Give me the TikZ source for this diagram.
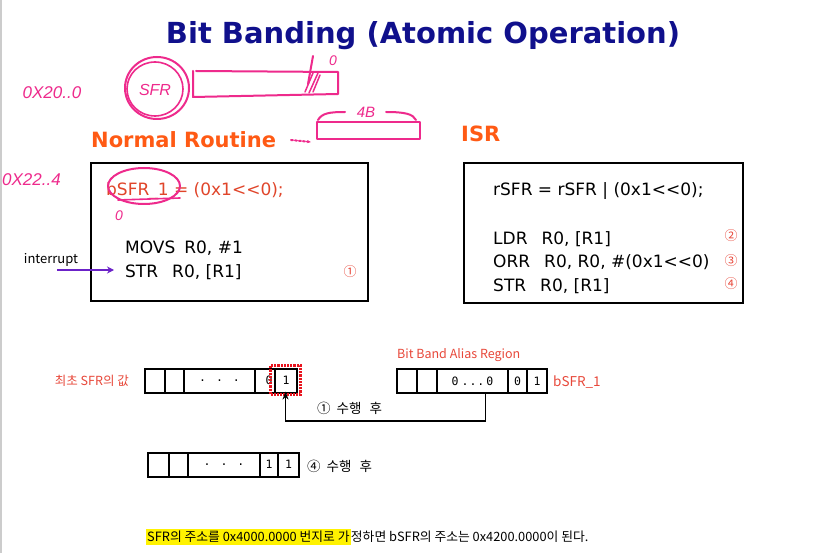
\documentclass[tikz,border=0pt]{standalone}
\usepackage{fontspec}
\setmainfont{Liberation Sans}
\newfontfamily\titlefont{DejaVu Sans}
\newfontfamily\codefont{DejaVu Sans}
\newfontfamily\kr{Noto Sans CJK KR}
\newfontfamily\cellfont{DejaVu Sans Mono}
\usetikzlibrary{arrows.meta,calc}
\definecolor{titleblue}{HTML}{10108C}
\definecolor{hdorange}{HTML}{FF5A14}
\definecolor{codered}{HTML}{E0452A}
\definecolor{pinkpen}{HTML}{EE2A8C}
\definecolor{arrowpurple}{HTML}{6B22C8}
\definecolor{lblred}{HTML}{E8483A}
\definecolor{dotred}{HTML}{E8141E}
\definecolor{hl}{HTML}{FFF200}
\begin{document}
\begin{tikzpicture}[x=1pt,y=-1pt,
  heading/.style={font=\titlefont\bfseries\fontsize{21}{25}\selectfont, text=hdorange, inner sep=0pt},
  codebox/.style={draw=black, line width=2.6pt, inner sep=0pt},
  codeline/.style={font=\codefont\fontsize{17}{20}\selectfont, anchor=base west, inner sep=0pt},
  stepnum/.style={font=\kr\fontsize{13}{15}\selectfont, text=lblred, inner sep=0pt},
  cell/.style={draw=black, line width=2pt, minimum height=24pt, inner sep=0pt, font=\cellfont\fontsize{11.5}{13}\selectfont},
  krlabel/.style={font=\kr\fontsize{12.5}{15}\selectfont, inner sep=0pt},
  pen/.style={draw=pinkpen, line width=2pt, line cap=round, line join=round},
  pentext/.style={text=pinkpen, font=\itshape\fontsize{17}{20}\selectfont, inner sep=0pt}
]
\useasboundingbox (0,0) rectangle (832,553);
\fill[white] (0,0) rectangle (832,553);
\draw[gray!40, line width=1.5pt] (1,0) -- (1,553);

% title
\node[font=\titlefont\bfseries\fontsize{29}{34}\selectfont, text=titleblue, inner sep=0pt] (title) at (423,36) {Bit Banding (Atomic Operation)};

% headings
\node[heading, anchor=west] (hnr) at (91,140) {Normal Routine};
\node[heading, anchor=west] (hisr) at (461,134) {ISR};

% code boxes
\node[codebox, minimum width=277pt, minimum height=138pt] (nr) at (229.5,232) {};
\node[codebox, minimum width=279pt, minimum height=140pt] (isr) at (603.5,233) {};

\node[codeline, text=codered] (c1) at (106,196) {bSFR\_1 = (0x1<<0);};
\node[codeline] (c2) at (125,254) {MOVS\hspace{9pt}R0, \#1};
\node[codeline] (c3) at (125,277) {STR\hspace{14pt}R0, [R1]};
\node[stepnum] (n1) at (350,272) {①};

\node[codeline] (r1) at (493,196) {rSFR = rSFR | (0x1<<0);};
\node[codeline] (r2) at (493,245) {LDR\hspace{14pt}R0, [R1]};
\node[codeline] (r3) at (493,268) {ORR\hspace{14pt}R0, R0, \#(0x1<<0)};
\node[codeline] (r4) at (493,291) {STR\hspace{14pt}R0, [R1]};
\node[stepnum] (n2) at (731,236) {②};
\node[stepnum] (n3) at (731,261) {③};
\node[stepnum] (n4) at (731,284) {④};

% interrupt
\node[font=\kr\fontsize{13}{15}\selectfont, inner sep=0pt] (intl) at (51,260) {interrupt};
\coordinate (intS) at (57,270);
\draw[arrowpurple, line width=2.2pt, -{Stealth[length=7pt,width=7pt]}, shorten >=11pt] (intS) -- (intS -| c3.west);

% row 1 : initial SFR value
\node[cell, minimum width=20pt] (s1) at (155,380.5) {};
\node[cell, minimum width=19pt] (s2) at (174.5,380.5) {};
\node[cell, minimum width=71pt] (s3) at (219.5,380.5) {.\hspace{10pt}.\hspace{10pt}.};
\node[cell, minimum width=20pt] (s4) at (265,380.5) {\hspace*{8pt}0};
\node[cell, minimum width=22pt] (s5) at (286,380.5) {1};
\node[draw=dotred, densely dotted, line width=2.2pt, minimum width=30pt, minimum height=29pt, inner sep=0pt] (sel) at (285.5,380) {};
\node[krlabel, text=lblred, anchor=east] (l1) at (129,381) {최초 SFR의 값};

% row 2 : bit band alias
\node[cell, minimum width=20pt] (a1) at (407,381) {};
\node[cell, minimum width=20pt] (a2) at (427,381) {};
\node[cell, minimum width=71pt] (a3) at (472.5,381) {0\hspace{3pt}.\hspace{1pt}.\hspace{1pt}.\hspace{2pt}0};
\node[cell, minimum width=19pt] (a4) at (517.5,381) {0};
\node[cell, minimum width=20pt] (a5) at (537,381) {1};
\node[krlabel, text=lblred, anchor=west] (lab) at (397,355) {Bit Band Alias Region};
\node[krlabel, text=lblred, anchor=west, font=\kr\fontsize{13.5}{15}\selectfont] (lb) at (553,382) {bSFR\_1};

% arrow: after step 1
\coordinate (tap) at ($(a3.south west)!0.68!(a3.south east)$);
\coordinate (bend) at (tap |- 0,421);
\draw[line width=1.3pt, -{Stealth[length=8pt,width=6pt]}] (tap) -- (bend) -| ([yshift=4pt]sel.south);
\node[krlabel, font=\kr\fontsize{13.5}{16}\selectfont, anchor=west] (st1) at (317,408) {①\hspace{6pt}수행\hspace{8pt}후};

% row 3 : after step 4
\node[cell, minimum width=21pt] (b1) at (158.5,464.5) {};
\node[cell, minimum width=19pt] (b2) at (178.5,464.5) {};
\node[cell, minimum width=72pt] (b3) at (224,464.5) {.\hspace{10pt}.\hspace{10pt}.};
\node[cell, minimum width=18pt] (b4) at (269,464.5) {1};
\node[cell, minimum width=21pt] (b5) at (288.5,464.5) {1};
\node[krlabel, font=\kr\fontsize{13.5}{16}\selectfont, anchor=west] (st4) at (307,466) {④\hspace{6pt}수행\hspace{8pt}후};

% bottom note
\node[krlabel, fill=hl, anchor=west, inner xsep=1pt, inner ysep=2pt, font=\kr\fontsize{12.8}{15}\selectfont] (note1) at (146,537) {SFR의 주소를 0x4000.0000 번지로 가};
\node[krlabel, anchor=base west, font=\kr\fontsize{12.8}{15}\selectfont] (note2) at (note1.base east) {정하면 bSFR의 주소는 0x4200.0000이 된다.};

% hand-drawn pink annotations
\node[pentext] (h1) at (52,93) {0X20..0};
\draw[pen] (157,88) ellipse (32pt and 31pt);
\draw[pen, line width=1.6pt] (155,89) ellipse (28pt and 27pt);
\node[pentext, font=\itshape\fontsize{16}{18}\selectfont] (hsfr) at (155,90) {SFR};
\draw[pen] (193,71) -- (193,97) -- (338,94) -- (338,72) -- (196,71);
\draw[pen, line width=1.5pt] (305,92) -- (313,73) (309,93) -- (318,73) (313,92) -- (320,75);
\draw[pen] (313,56) -- (308,84);
\node[pentext, font=\itshape\fontsize{14}{16}\selectfont] (h0a) at (333,61) {0};
\draw[pen, dotted, -{Stealth[length=4pt]}] (291,140) -- (311,142);
\draw[pen] (317,122) -- (317,139) -- (420,139) -- (420,122) -- (317,122);
\draw[pen] (318,120) .. controls (322,113) and (330,112) .. (345,112);
\draw[pen] (386,112) .. controls (405,112) and (413,114) .. (416,120);
\node[pentext, font=\itshape\fontsize{15}{16}\selectfont] (h4b) at (366,112) {4B};
\node[pentext, anchor=west] (h2) at (2,180) {0X22..4};
\draw[pen] (144,186) ellipse (36pt and 18pt);
\draw[pen, line width=1.6pt] (118,200) -- (180,198);
\node[pentext, font=\itshape\fontsize{14}{16}\selectfont] (h0b) at (119,216) {0};
\end{tikzpicture}
\end{document}
